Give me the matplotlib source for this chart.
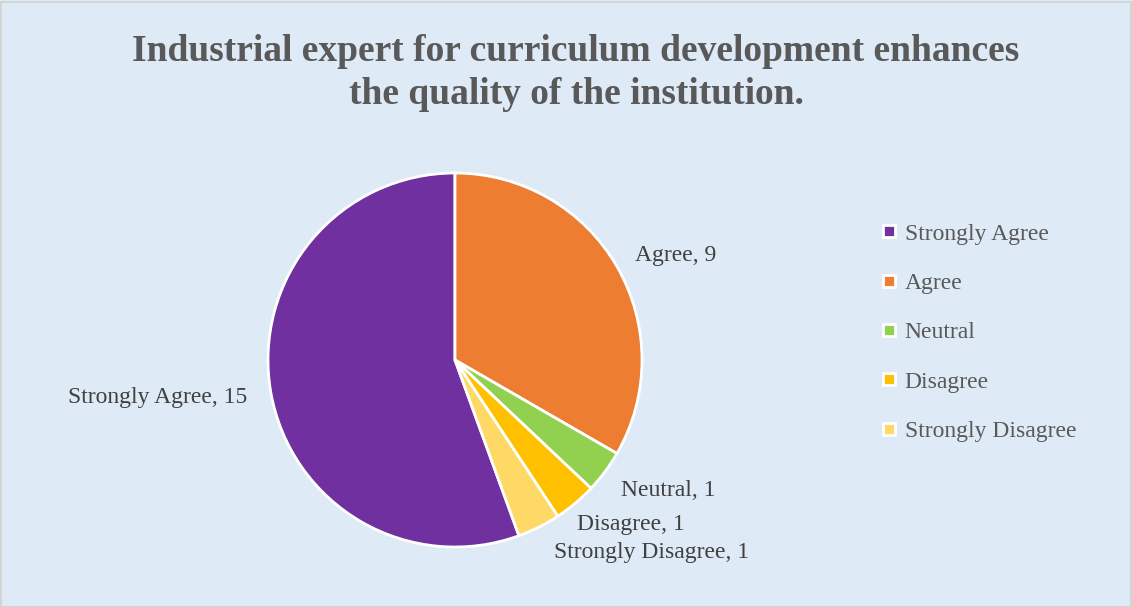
import matplotlib.pyplot as plt
from matplotlib.lines import Line2D

categories = ["Strongly Agree", "Agree", "Neutral", "Disagree", "Strongly Disagree"]
counts = [15, 9, 1, 1, 1]
colors = ["#7030A0", "#ED7D31", "#92D050", "#FFC000", "#FFD966"]
title = "Industrial expert for curriculum development enhances\nthe quality of the institution."

# label anchor positions in pie-radius units (layout only)
label_pos = [(-1.59, -0.20), (1.18, 0.56), (1.14, -0.70), (0.94, -0.88), (1.05, -1.03)]

W, H = 1132, 607
fig = plt.figure(figsize=(W / 100, H / 100), dpi=100)
fig.patch.set_facecolor("#DEEAF6")
fig.patches.append(plt.Rectangle((0.5 / W, 0.5 / H), 1 - 2 / W, 1 - 2 / H, transform=fig.transFigure,
                                 fill=False, edgecolor="#D0D0D0", linewidth=1.2))

serif = ["Liberation Serif", "DejaVu Serif"]

fig.text(576 / W, 1 - 73 / H, title, ha="center", va="center", fontsize=27, fontweight="bold",
         family=serif, color="#595959", linespacing=1.3)

cx, cy, r = 455, 360, 187
ax = fig.add_axes([(cx - r) / W, (H - cy - r) / H, 2 * r / W, 2 * r / H])
ax.pie(counts, colors=colors, startangle=290, counterclock=False, radius=1,
       wedgeprops=dict(edgecolor="white", linewidth=2.0))
ax.set_xlim(-1, 1)
ax.set_ylim(-1, 1)
ax.set_aspect("equal")
ax.axis("off")

for (x, y), cat, n in zip(label_pos, categories, counts):
    ax.text(x, y, f"{cat}, {n}", ha="center", va="center", fontsize=17, family=serif,
            color="#404040", clip_on=False)

handles = [Line2D([], [], linestyle="none", marker="s", markersize=8, markerfacecolor=c,
                  markeredgecolor="white", markeredgewidth=2.0) for c in colors]
fig.legend(handles, categories, loc="upper left", bbox_to_anchor=(881 / W, 1 - 223 / H),
           frameon=False, prop=dict(family=serif, size=17), labelcolor="#595959",
           handlelength=0.7, handletextpad=0.3, labelspacing=1.18, borderpad=0, borderaxespad=0)

fig.savefig("out.png", dpi=100, facecolor=fig.get_facecolor())
